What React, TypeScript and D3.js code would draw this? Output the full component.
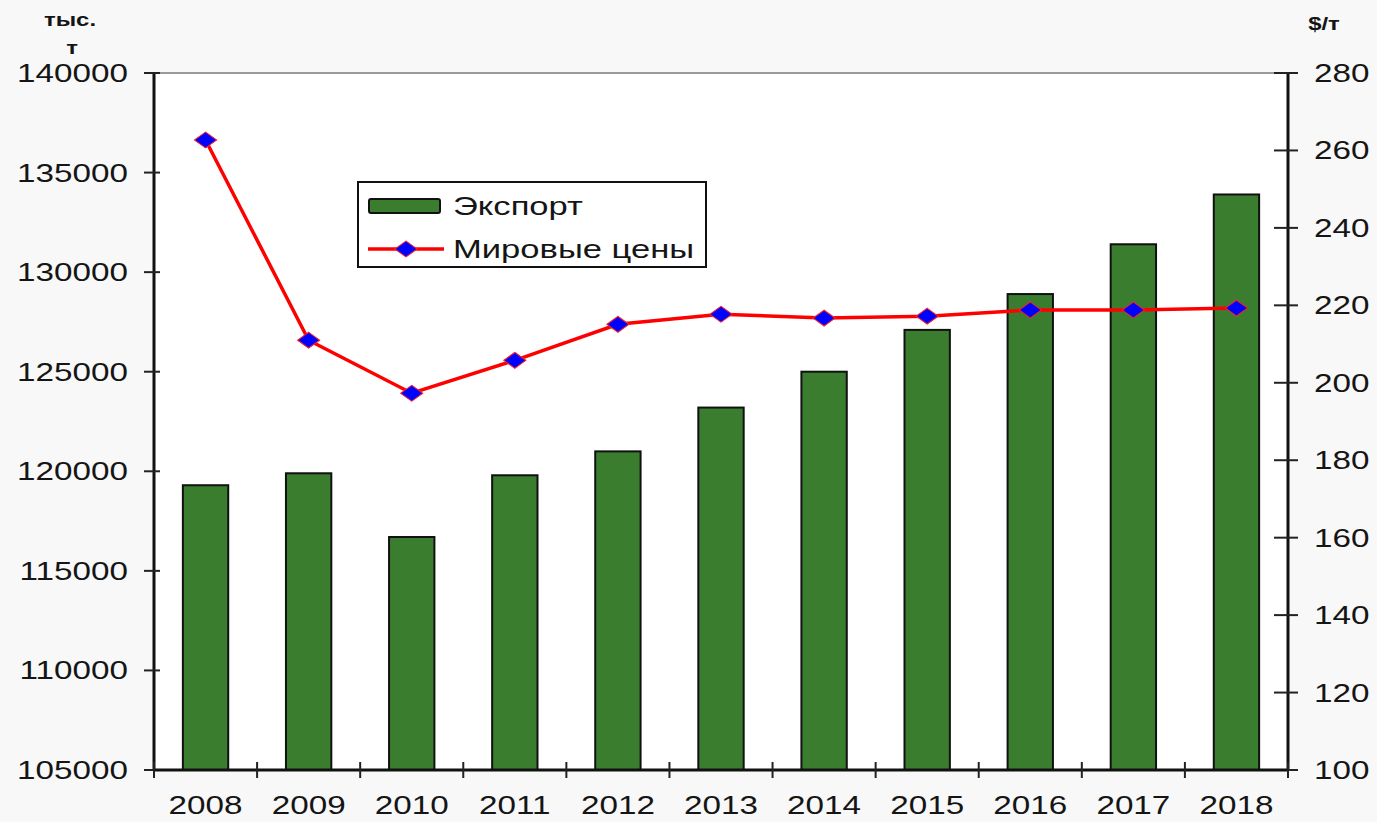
import * as d3 from 'd3';
import React, { useEffect, useRef } from 'react';

const years = ['2008', '2009', '2010', '2011', '2012', '2013', '2014', '2015', '2016', '2017', '2018'];
const exportVals = [119300, 119900, 116700, 119800, 121000, 123200, 125000, 127100, 128900, 131400, 133900];
const worldPrices = [262.7, 211, 197.3, 205.8, 215.1, 217.7, 216.7, 217.2, 218.8, 218.8, 219.3];
const leftTicks = [105000, 110000, 115000, 120000, 125000, 130000, 135000, 140000];
const rightTicks = [100, 120, 140, 160, 180, 200, 220, 240, 260, 280];
const seriesNames = ['Экспорт', 'Мировые цены'];

const W = 1377, H = 822;
const FONT = '"Liberation Sans", Arial, sans-serif';
const SX = 1.33; // the source text looks stretched sideways

export default function App() {
  const ref = useRef<SVGSVGElement>(null);

  useEffect(() => {
    document.body.style.margin = '0';
    const svg = d3.select(ref.current);
    svg.selectAll('*').remove();

    // wide text helper
    const txt = (g: any, x: number, y: number, s: string | number, size: number, anchor = 'start', bold = false) =>
      g.append('text')
        .attr('transform', `translate(${x},${y}) scale(${SX},1)`)
        .attr('text-anchor', anchor).attr('font-family', FONT).attr('font-size', size)
        .attr('font-weight', bold ? 'bold' : 'normal').attr('fill', '#151515').text(s);

    const left = 154, right = 1288, top = 73, bottom = 770;

    const x = d3.scaleBand().domain(years).range([left, right]).paddingInner(0.56).paddingOuter(0.28);
    const step = (right - left) / years.length;
    const yL = d3.scaleLinear().domain([105000, 140000]).range([bottom, top]);
    const yR = d3.scaleLinear().domain([100, 280]).range([bottom, top]);

    // background
    svg.append('rect').attr('width', W).attr('height', H).attr('fill', '#f8f8f8');
    svg.append('rect').attr('x', left).attr('y', top).attr('width', right - left).attr('height', bottom - top).attr('fill', '#fff');
    svg.append('line').attr('x1', left).attr('x2', right).attr('y1', top).attr('y2', top)
      .attr('stroke', '#9a9a9a').attr('stroke-width', 2);

    // bars
    svg.selectAll('.bar').data(years).enter().append('rect')
      .attr('class', 'bar')
      .attr('x', d => x(d)!)
      .attr('width', x.bandwidth())
      .attr('y', (d, i) => yL(exportVals[i]))
      .attr('height', (d, i) => bottom - yL(exportVals[i]))
      .attr('fill', '#3a7d2f').attr('stroke', '#111').attr('stroke-width', 2);

    // left axis
    svg.append('line').attr('x1', left).attr('x2', left).attr('y1', top).attr('y2', bottom)
      .attr('stroke', '#111').attr('stroke-width', 3);
    leftTicks.forEach(t => {
      svg.append('line').attr('x1', left - 10).attr('x2', left + 6).attr('y1', yL(t)).attr('y2', yL(t))
        .attr('stroke', '#222').attr('stroke-width', 2);
      txt(svg, 128, yL(t) + 9, t, 25, 'end');
    });

    // right axis
    svg.append('line').attr('x1', right).attr('x2', right).attr('y1', top).attr('y2', bottom)
      .attr('stroke', '#111').attr('stroke-width', 3);
    rightTicks.forEach(t => {
      svg.append('line').attr('x1', right - 14).attr('x2', right + 10).attr('y1', yR(t)).attr('y2', yR(t))
        .attr('stroke', '#222').attr('stroke-width', 2);
      txt(svg, 1314, yR(t) + 9, t, 25, 'start');
    });

    // x axis
    svg.append('line').attr('x1', left).attr('x2', right).attr('y1', bottom).attr('y2', bottom)
      .attr('stroke', '#111').attr('stroke-width', 3);
    d3.range(years.length + 1).forEach(i => {
      const tx = left + step * i;
      svg.append('line').attr('x1', tx).attr('x2', tx).attr('y1', bottom - 8).attr('y2', bottom + 8)
        .attr('stroke', '#222').attr('stroke-width', 2);
    });
    years.forEach(d => txt(svg, x(d)! + x.bandwidth() / 2, 814, d, 25, 'middle'));

    // price line
    const line = d3.line<number>()
      .x((d, i) => x(years[i])! + x.bandwidth() / 2)
      .y(d => yR(d));
    svg.append('path').datum(worldPrices).attr('d', line).attr('fill', 'none')
      .attr('stroke', '#ff0000').attr('stroke-width', 3.5);
    const diamond = d3.symbol().type(d3.symbolDiamond2).size(200);
    svg.selectAll('.pt').data(worldPrices).enter().append('path')
      .attr('transform', (d, i) => `translate(${x(years[i])! + x.bandwidth() / 2},${yR(d)}) scale(1.25,0.9)`)
      .attr('d', diamond).attr('fill', '#0000ff').attr('stroke', '#ff2020').attr('stroke-width', 1);

    // legend
    const lg = svg.append('g').attr('transform', 'translate(358,182)');
    lg.append('rect').attr('width', 348).attr('height', 85).attr('fill', '#fff')
      .attr('stroke', '#111').attr('stroke-width', 2);
    lg.append('rect').attr('x', 11).attr('y', 17).attr('width', 71).attr('height', 14).attr('rx', 2)
      .attr('fill', '#3a7d2f').attr('stroke', '#111').attr('stroke-width', 2);
    txt(lg, 95, 33, seriesNames[0], 26);
    lg.append('line').attr('x1', 10).attr('x2', 86).attr('y1', 67).attr('y2', 67)
      .attr('stroke', '#ff0000').attr('stroke-width', 3.5);
    lg.append('path').attr('transform', 'translate(48,67) scale(1.25,0.9)').attr('d', diamond)
      .attr('fill', '#0000ff').attr('stroke', '#ff2020').attr('stroke-width', 1);
    txt(lg, 95, 76, seriesNames[1], 26);

    // unit labels
    txt(svg, 70, 26, 'тыс.', 18, 'middle', true);
    txt(svg, 72, 54, 'т', 18, 'middle', true);
    txt(svg, 1324, 30, '$/т', 18, 'middle', true);
  }, []);

  return <svg ref={ref} width={W} height={H} style={{ display: 'block' }} />;
}
